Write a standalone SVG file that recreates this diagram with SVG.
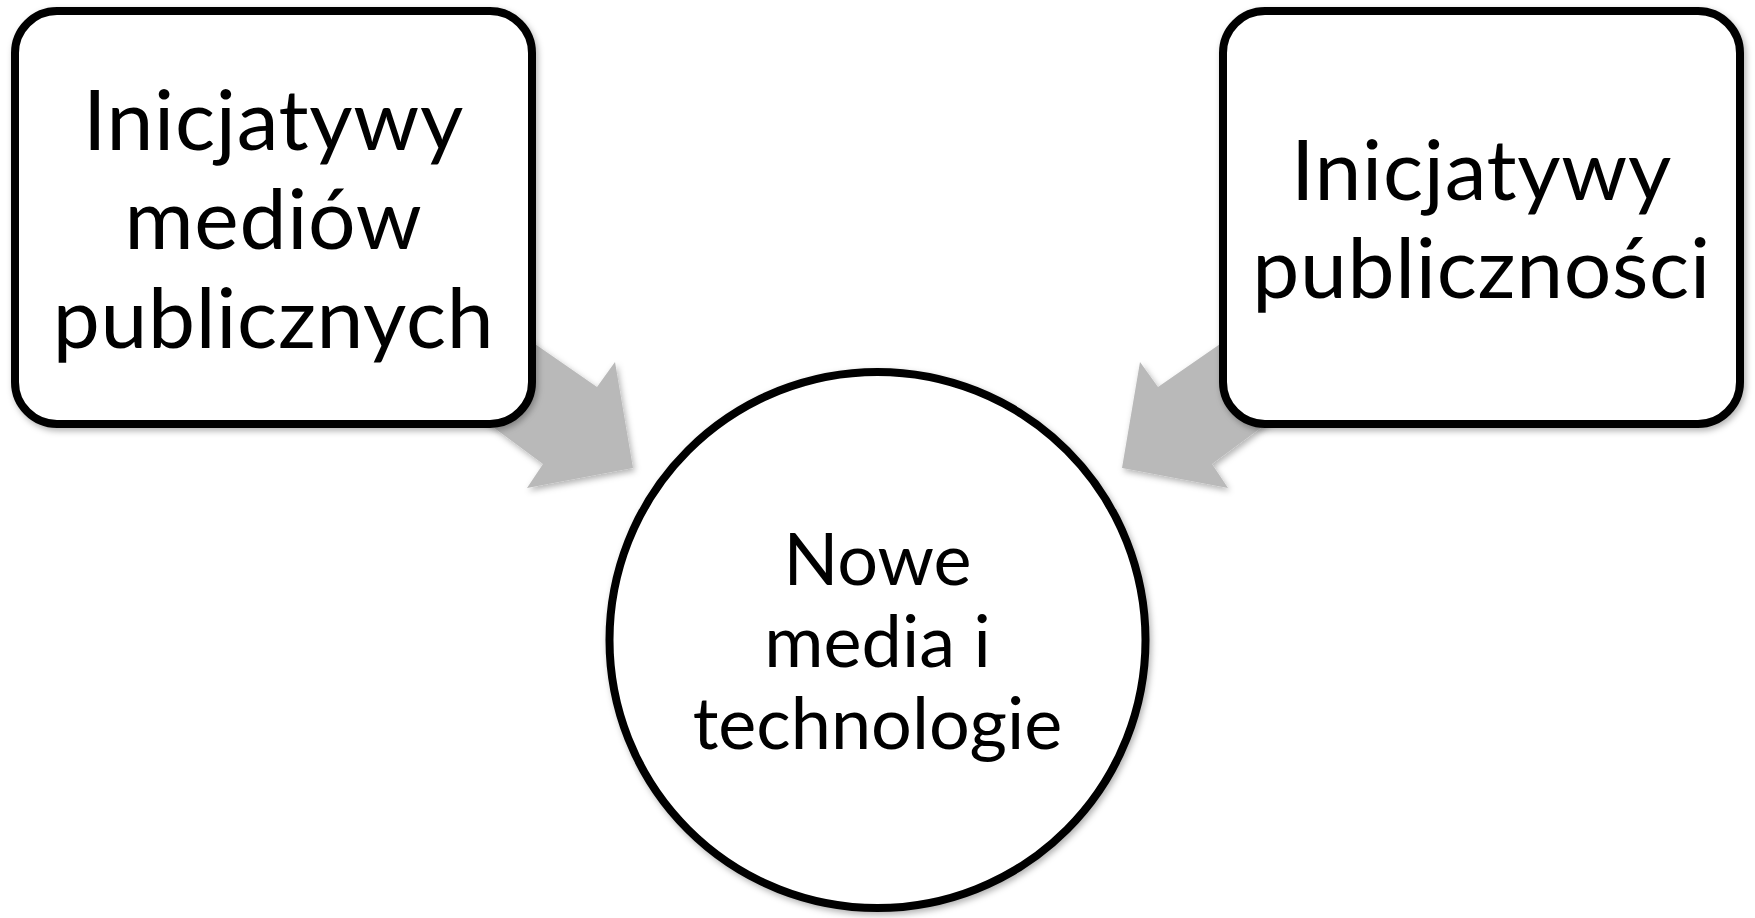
<svg xmlns="http://www.w3.org/2000/svg" width="1755" height="918" viewBox="0 0 1755 918">
<defs>
<filter id="sh" x="-10%" y="-10%" width="120%" height="120%">
<feDropShadow dx="2" dy="3" stdDeviation="3" flood-color="#000" flood-opacity="0.3"/>
</filter>
</defs>
<style>
.arrow{fill:#b9b9b9;filter:url(#sh)}
.node{fill:#fff;stroke:#000;stroke-width:8;filter:url(#sh)}
.lbl{font-family:Lato,"Open Sans","Liberation Sans",sans-serif;fill:#000;text-anchor:middle}
.big{font-size:84px;letter-spacing:0.7px}
.mid{font-size:72px}
</style>
<rect width="1755" height="918" fill="#fff"/>
<g id="connectors">
<polygon class="arrow" points="480,306 597,387 615,362 633,468 527,488 543,464 440,388"/>
<polygon class="arrow" points="1275,306 1158,387 1140,362 1122,468 1228,488 1212,464 1315,388"/>
</g>
<g id="node-left">
<rect class="node" x="15" y="11" width="517" height="413" rx="42" ry="42"/>
<text class="lbl big" x="273.5" y="150">Inicjatywy</text>
<text class="lbl big" x="273.5" y="249">mediów</text>
<text class="lbl big" x="273.5" y="348">publicznych</text>
</g>
<g id="node-right">
<rect class="node" x="1223" y="11" width="517" height="413" rx="42" ry="42"/>
<text class="lbl big" x="1481.5" y="200">Inicjatywy</text>
<text class="lbl big" x="1481.5" y="298">publiczności</text>
</g>
<g id="node-center">
<circle class="node" cx="877.5" cy="640" r="268"/>
<text class="lbl mid" x="877.5" y="585">Nowe</text>
<text class="lbl mid" x="877.5" y="667">media i</text>
<text class="lbl mid" x="877.5" y="749">technologie</text>
</g>
</svg>
